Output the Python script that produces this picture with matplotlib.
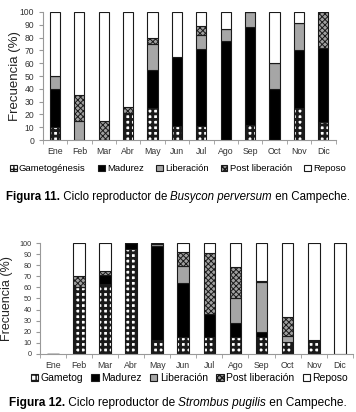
import matplotlib
matplotlib.use("Agg")
import matplotlib.pyplot as plt
import numpy as np

plt.rcParams["font.family"] = ["Liberation Sans", "DejaVu Sans"]

months = ["Ene", "Feb", "Mar", "Abr", "May", "Jun", "Jul", "Ago", "Sep", "Oct", "Nov", "Dic"]

# Figura 11 - Busycon perversum
bp_gamet = [10, 0, 0, 21, 25, 11, 11, 0, 12, 0, 25, 14]
bp_madurez = [30, 0, 0, 0, 30, 54, 60, 77, 76, 40, 45, 58]
bp_liberacion = [10, 15, 0, 0, 20, 0, 11, 10, 12, 20, 21, 0]
bp_post = [0, 20, 15, 5, 5, 0, 7, 0, 0, 0, 0, 28]
bp_reposo = [50, 65, 85, 74, 20, 35, 11, 13, 0, 40, 9, 0]

# Figura 12 - Strombus pugilis
sp_gamet = [0, 60, 63, 95, 13, 15, 15, 15, 15, 11, 13, 0]
sp_madurez = [0, 0, 8, 5, 84, 49, 21, 13, 5, 0, 0, 0]
sp_liberacion = [0, 0, 0, 0, 2, 15, 0, 22, 45, 5, 0, 0]
sp_post = [0, 10, 4, 0, 0, 13, 55, 28, 1, 17, 0, 0]
sp_reposo = [0, 30, 25, 0, 1, 8, 9, 22, 34, 67, 87, 100]

styles = [
    dict(facecolor="white", hatch="+++", hlw=2.0),       # gametogenesis
    dict(facecolor="black", hatch=None, hlw=1.0),        # madurez
    dict(facecolor="#a6a6a6", hatch=None, hlw=1.0),      # liberacion
    dict(facecolor="#a0a0a0", hatch="xxxxxx", hlw=0.7),  # post liberacion
    dict(facecolor="white", hatch=None, hlw=1.0),        # reposo
]


def draw_panel(ax, series, labels, width, xfs, yfs):
    x = np.arange(len(months)) + 0.5
    bottom = np.zeros(len(months))
    handles = []
    for vals, st, lab in zip(series, styles, labels):
        vals = np.asarray(vals, dtype=float)
        with plt.rc_context({"hatch.linewidth": st["hlw"]}):
            bars = ax.bar(x, vals, width=width, bottom=bottom, color=st["facecolor"],
                          edgecolor="#1a1a1a", linewidth=0.8, hatch=st["hatch"], label=lab)
        for p in bars.patches:
            if hasattr(p, "set_hatch_linewidth"):
                p.set_hatch_linewidth(st["hlw"])
        handles.append(bars)
        bottom += vals
    ax.set_xlim(0, 12)
    ax.set_ylim(0, 100)
    ax.set_yticks(range(0, 101, 10))
    ax.set_xticks(x)
    ax.set_xticklabels(months)
    ax.set_xticks(np.arange(13), minor=True)
    ax.tick_params(axis="x", which="major", length=0, labelsize=xfs, pad=5, colors="#333")
    ax.tick_params(axis="x", which="minor", length=3, color="#999")
    ax.tick_params(axis="y", length=3, labelsize=yfs, color="#999", labelcolor="#333", pad=3)
    for s in ("top", "right"):
        ax.spines[s].set_visible(False)
    for s in ("left", "bottom"):
        ax.spines[s].set_color("#999")
        ax.spines[s].set_linewidth(0.8)
    return handles


def caption(fig, y, parts, size, xc):
    r = fig.canvas.get_renderer()
    texts = []
    for s, kw in parts:
        t = fig.text(0, y, s, fontsize=size, va="center", **kw)
        texts.append(t)
    widths = [t.get_window_extent(r).width for t in texts]
    total = sum(widths)
    x0 = xc * fig.bbox.width - total / 2
    for t, w in zip(texts, widths):
        t.set_x(x0 / fig.bbox.width)
        x0 += w


fig = plt.figure(figsize=(3.56, 4.12), dpi=100)

ax1 = fig.add_axes([0.120, 0.660, 0.8225, 0.311])
h1 = draw_panel(ax1, [bp_gamet, bp_madurez, bp_liberacion, bp_post, bp_reposo],
                ["Gametogénesis", "Madurez", "Liberación", "Post liberación", "Reposo"],
                0.42, 6.3, 6.2)
ax1.set_ylabel("Frecuencia (%)", fontsize=9.5, color="#222")
ax1.yaxis.set_label_coords(-0.074, 0.5)
fig.legend(handles=h1, loc="center", bbox_to_anchor=(0.50, 1 - 169 / 412), ncol=5,
           frameon=False, fontsize=6.8, handlelength=0.7, handleheight=0.7,
           handletextpad=0.25, columnspacing=1.3, borderpad=0)

ax2 = fig.add_axes([0.112, 0.141, 0.879, 0.269])
h2 = draw_panel(ax2, [sp_gamet, sp_madurez, sp_liberacion, sp_post, sp_reposo],
                ["Gametog", "Madurez", "Liberación", "Post liberación", "Reposo"],
                0.45, 6.3, 5.2)
ax2.set_ylabel("Frecuencia (%)", fontsize=9, color="#222")
ax2.yaxis.set_label_coords(-0.086, 0.5)
fig.legend(handles=h2, loc="center", bbox_to_anchor=(0.532, 1 - 378 / 412), ncol=5,
           frameon=False, fontsize=7.5, handlelength=0.7, handleheight=0.7,
           handletextpad=0.25, columnspacing=0.8, borderpad=0)

caption(fig, 1 - 197 / 412, [("Figura 11.", dict(fontweight="bold")),
                             (" Ciclo reproductor de ", {}),
                             ("Busycon perversum", dict(style="italic")),
                             (" en Campeche.", {})], 8.3, 0.500)
caption(fig, 1 - 403 / 412, [("Figura 12.", dict(fontweight="bold")),
                             (" Ciclo reproductor de ", {}),
                             ("Strombus pugilis", dict(style="italic")),
                             (" en Campeche.", {})], 8.6, 0.500)

fig.savefig("out.png", dpi=100)
